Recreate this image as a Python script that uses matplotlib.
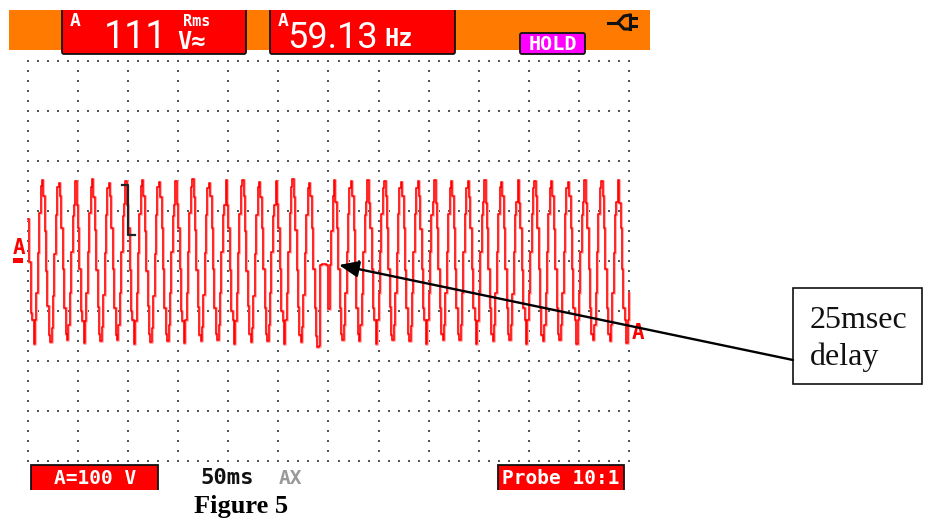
import numpy as np
import matplotlib
matplotlib.use('Agg')
import matplotlib.pyplot as plt
from matplotlib.patches import Rectangle, FancyBboxPatch

# Scope trace, volts (100 V/div), one row = one mains cycle
trace_before = [
    84, -2, -104, -118, -166, -118, -64, 16, 96, 150, 162, 130,
    60, -20, -90, -148, -162, -134, -70, 14, 92, 148, 156, 130,
    65, -17, -94, -146, -158, -129, -65, 17, 90, 112, 160, 112,
    66, -16, -100, -120, -164, -120, -64, 18, 96, 148, 164, 128,
    62, -18, -92, -146, -160, -132, -68, 16, 92, 146, 156, 130,
    65, -17, -94, -148, -158, -129, -65, 17, 90, 114, 160, 112,
    66, -18, -100, -118, -166, -120, -64, 16, 94, 150, 162, 130,
    60, -20, -90, -146, -162, -134, -70, 14, 92, 148, 158, 128,
    65, -17, -94, -146, -160, -129, -65, 17, 90, 112, 160, 114,
    66, -16, -100, -120, -164, -118, -64, 18, 96, 148, 164, 128,
    62, -18, -92, -148, -160, -132, -68, 16, 92, 146, 156, 130,
    65, -17, -94, -146, -158, -129, -65, 17, 92, 112, 162, 112,
    66, -18, -100, -118, -166, -120, -64, 16, 94, 150, 162, 130,
    60, -20, -90, -146, -162, -134, -70, 14, 92, 148, 158, 128,
    65, -17, -94, -146, -160, -129, -65, 17, 90, 112, 160, 114,
    66, -16, -100, -120, -166, -118, -64, 18, 96, 148, 164, 128,
    62, -18, -92, -148, -162, -132, -68, 16, 92, 146, 156, 130,
    65, -17, -94, -150, -172, -170,
]
# the 25 ms hole in the mains, then the restart
trace_gap = [-8, -6, -6, -6, -8, -8, -96, -8, 60, 130]
trace_after = [
    162, 118, 65, -17, -94, -146, -159, -129, -65, 17, 94, 146,
    159, 129, 62, -20, -94, -146, -160, -129, -66, 17, 92, 118,
    162, 116, 65, -17, -94, -118, -166, -118, -65, 17, 94, 146,
    160, 129, 65, -17, -92, -148, -159, -129, -65, 16, 94, 146,
    158, 130, 65, -18, -94, -146, -160, -130, -65, 17, 94, 146,
    159, 129, 64, -17, -94, -118, -166, -118, -65, 17, 92, 118,
    162, 116, 65, -17, -94, -146, -159, -129, -65, 17, 94, 146,
    160, 129, 66, -17, -94, -146, -158, -129, -64, 17, 94, 146,
    159, 128, 65, -16, -94, -118, -166, -120, -65, 17, 92, 118,
    162, 116, 65, -17, -94, -146, -160, -129, -65, 17, 94, 148,
    158, 129, 65, -17, -94, -146, -159, -129, -66, 17, 92, 118,
    162, 116, 65, -18, -94, -118, -166, -118, -65, 17, 94, 146,
    159, 129, 65, -17, -94, -148, -160, -129, -65, 17, 94, 146,
    160, 130, 64, -17, -94, -146, -159, -128, -65, 18, 94, 146,
    158, 129, 65, -17, -94, -118, -166, -118, -65, 17, 92, 118,
    162, 116, 65, -17, -94, -146, -159, -129, -65, 17, 94, 146,
    159, 129, 66, -17, -94, -146, -160, -129, -65, 16, 92, 118,
    162, 116, 65, -17, -94, -118, -164, -118, -65,
]
ms_per_sample = 50 / 36
readings = ['111', '59.13', 'Hz', 'Rms', 'V≈', 'HOLD', 'A=100 V', '50ms', 'Probe 10:1']
note_lines = ['25msec', 'delay']
caption = 'Figure 5'

RED = '#ff0000'
ORANGE = '#ff7a00'
W, H = 928, 518

fig = plt.figure(figsize=(W / 100, H / 100), dpi=100)

# pixel axes for the screen furniture
bg = fig.add_axes([0, 0, 1, 1])
bg.set_xlim(0, W)
bg.set_ylim(H, 0)
bg.axis('off')

# scope axes: 12 divisions wide, 8 high
left, right, top, bottom = 28, 629, 60.5, 460.5
sc = fig.add_axes([left / W, 1 - bottom / H, (right - left) / W, (bottom - top) / H])
sc.set_xlim(0, 600)
sc.set_ylim(-400, 400)
sc.axis('off')
sc.patch.set_alpha(0)

# dotted graticule
xs_major = np.arange(0, 601, 50)
ys_major = np.arange(-400, 401, 100)
xs_minor = np.arange(0, 601, 10)
ys_minor = np.arange(-400, 401, 20)
for y in ys_major:
    sc.plot(xs_minor, np.full_like(xs_minor, y), ls='', marker='s', ms=1.5, mew=0, color='#555555', clip_on=False)
for x in xs_major:
    sc.plot(np.full_like(ys_minor, x), ys_minor, ls='', marker='s', ms=1.5, mew=0, color='#555555', clip_on=False)

trace = trace_before + trace_gap + trace_after
t = np.arange(len(trace)) * ms_per_sample
sc.step(t, trace, where='post', color='#ffb0b0', lw=2.2, clip_on=False)
sc.step(t, trace, where='post', color=RED, lw=1.1, clip_on=False)

# header band and read-outs
bg.add_patch(Rectangle((9, 10), 641, 40, fc=ORANGE, ec='none'))
for x0, w in [(62, 184), (270, 185)]:
    bg.add_patch(FancyBboxPatch((x0, 6), w, 48, boxstyle='round,pad=0,rounding_size=2', fc=RED, ec='#111111', lw=1.3))
bg.add_patch(Rectangle((0, 0), W, 10, fc='white', ec='none'))
bg.add_patch(FancyBboxPatch((520, 33), 65, 21, boxstyle='round,pad=0,rounding_size=2', fc='#ff00ff', ec='#111111', lw=1.3))

mono = 'DejaVu Sans Mono'
bg.text(75, 21, 'A', color='white', fontsize=13, fontweight='bold', family=mono, ha='center', va='center')
bg.text(136, 38, readings[0], color='white', fontsize=27, family='Roboto', ha='center', va='center')
bg.text(197, 21, readings[3], color='white', fontsize=11, fontweight='bold', family=mono, ha='center', va='center')
bg.text(192, 42, readings[4], color='white', fontsize=17, fontweight='bold', family=mono, ha='center', va='center')
bg.text(283, 21, 'A', color='white', fontsize=13, fontweight='bold', family=mono, ha='center', va='center')
bg.text(333, 38, readings[1], color='white', fontsize=26, family='Roboto', ha='center', va='center')
bg.text(399, 39, readings[2], color='white', fontsize=17, fontweight='bold', family=mono, ha='center', va='center')
bg.text(552.5, 44, readings[5], color='white', fontsize=14.5, fontweight='bold', family=mono, ha='center', va='center')

# mains plug icon
bg.plot([608, 617], [22.5, 22.5], color='#111111', lw=2.2)
bg.plot([630, 624, 618, 624, 630], [15, 16, 22.5, 29, 29], color='#111111', lw=2.2)
bg.plot([630, 630], [15, 29], color='#111111', lw=2.2)
bg.plot([630, 636], [18, 18], color='#111111', lw=2.2)
bg.plot([630, 636], [26, 26], color='#111111', lw=2.2)

# channel markers
bg.text(19, 248, 'A', color=RED, fontsize=15, fontweight='bold', family=mono, ha='center', va='center')
bg.add_patch(Rectangle((13, 258), 10, 5, fc=RED, ec='none'))
bg.text(638, 333, 'A', color=RED, fontsize=15, fontweight='bold', family=mono, ha='center', va='center')

# bottom soft keys, cut off flat at the foot
bg.add_patch(Rectangle((31, 465), 127, 30, fc=RED, ec='#111111', lw=1.3))
bg.add_patch(Rectangle((498, 465), 126, 30, fc=RED, ec='#111111', lw=1.3))
bg.add_patch(Rectangle((25, 489.5), 640, 12, fc='white', ec='none'))
bg.text(95, 478, readings[6], color='white', fontsize=14, fontweight='bold', family=mono, ha='center', va='center')
bg.text(227, 478, readings[7], color='#111111', fontsize=16, fontweight='bold', family=mono, ha='center', va='center')
bg.text(290, 478, 'AX', color='#999999', fontsize=14, fontweight='bold', family=mono, ha='center', va='center')
bg.text(561, 478, readings[8], color='white', fontsize=14, fontweight='bold', family=mono, ha='center', va='center')

bg.text(241.5, 506, caption, color='black', fontsize=19, fontweight='bold', family='Liberation Serif', ha='center', va='center')

# note box and arrow, on top of the trace
bg.add_patch(Rectangle((793, 288), 129, 96, fc='white', ec='#111111', lw=1.2, zorder=4))
bg.text(810, 328, note_lines[0], color='#111111', fontsize=23, family='Liberation Serif', ha='left', va='baseline', zorder=5)
bg.text(810, 365, note_lines[1], color='#111111', fontsize=23, family='Liberation Serif', ha='left', va='baseline', zorder=5)
ar = fig.add_axes([0, 0, 1, 1])
ar.set_xlim(0, W)
ar.set_ylim(H, 0)
ar.axis('off')
ar.patch.set_alpha(0)
ar.plot([122, 128.5, 128.5, 135], [184.5, 184.5, 234.5, 234.5], color='#222222', lw=1.6)
ar.annotate('', xy=(339, 265), xytext=(793, 360),
            arrowprops=dict(arrowstyle='-|>,head_length=1.2,head_width=0.5', color='black', lw=1.7, shrinkA=0, shrinkB=0))

fig.savefig('out.png', dpi=100)
